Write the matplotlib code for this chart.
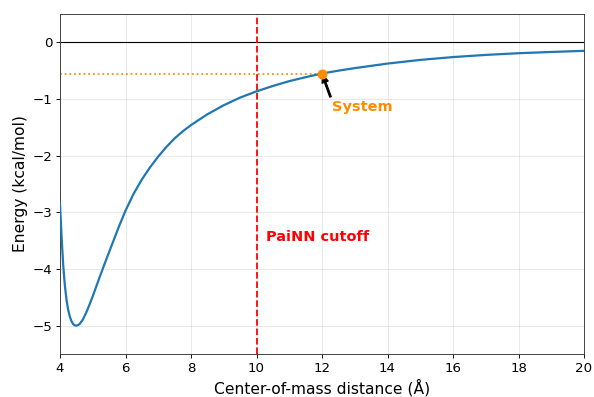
import matplotlib
matplotlib.use("Agg")
import matplotlib.pyplot as plt

# Data
distance = [4.0, 4.05, 4.1, 4.15, 4.2, 4.25, 4.3, 4.35, 4.4, 4.45, 4.5, 4.55, 4.6,
            4.7, 4.8, 4.9, 5.0, 5.2, 5.4, 5.6, 5.8, 6.0, 6.25, 6.5, 6.75,
            7.0, 7.25, 7.5, 7.75, 8.0, 8.25, 8.5, 9.0, 9.5, 10.0, 10.5, 11.0, 11.5,
            12.0, 12.5, 13.0, 14.0, 15.0, 16.0, 17.0, 18.0, 19.0, 20.0]
energy = [-2.85, -3.45, -3.95, -4.30, -4.55, -4.72, -4.84, -4.92, -4.97, -4.995, -5.0, -4.99, -4.97,
          -4.89, -4.77, -4.63, -4.48, -4.16, -3.85, -3.55, -3.25, -2.97, -2.67, -2.42, -2.205,
          -2.015, -1.845, -1.695, -1.57, -1.46, -1.365, -1.27, -1.11, -0.975, -0.865, -0.77, -0.685, -0.615,
          -0.55, -0.50, -0.455, -0.375, -0.31, -0.26, -0.222, -0.192, -0.17, -0.15]
cutoff = 10.0
system_x = 12.0
system_e = -0.55
x_ticks = [4, 6, 8, 10, 12, 14, 16, 18, 20]
y_ticks = [0, -1, -2, -3, -4, -5]

fig = plt.figure(figsize=(594/80, 397/80), dpi=80)
ax = fig.add_axes([60/594, 1-354/397, (584-60)/594, (354-14)/397])

ax.plot(distance, energy, color="#1f77b4", lw=2, zorder=3)
ax.axhline(0, color="black", lw=1, zorder=2)
ax.axvline(cutoff, color="red", ls="--", lw=1.6, zorder=2)
ax.plot([4, system_x], [system_e, system_e], color="darkorange", ls=":", lw=1.6, zorder=2)
ax.plot([system_x], [system_e], "o", color="darkorange", ms=8, zorder=4)
ax.annotate("System", xy=(system_x, system_e), xytext=(12.3, -1.15),
            color="darkorange", fontweight="bold", fontsize=13, va="center", ha="left",
            arrowprops=dict(facecolor="black", edgecolor="black", shrink=0.05,
                            width=1.5, headwidth=6, headlength=7))
ax.text(10.29, -3.43, "PaiNN cutoff", color="red", fontweight="bold", fontsize=13,
        va="center", ha="left")

ax.set_xlim(4, 20)
ax.set_ylim(-5.5, 0.5)
ax.set_xticks(x_ticks)
ax.set_yticks(y_ticks)
ax.tick_params(labelsize=12)
ax.grid(True, color="#cccccc", alpha=0.5, lw=0.8)
ax.set_axisbelow(True)
for s in ax.spines.values():
    s.set_color("#333333")
ax.set_xlabel("Center-of-mass distance (Å)", fontsize=14)
ax.set_ylabel("Energy (kcal/mol)", fontsize=14)

fig.savefig("out.png", dpi=80)
